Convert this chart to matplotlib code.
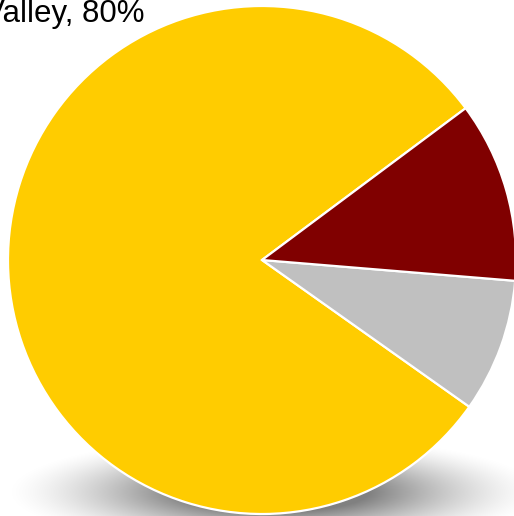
import matplotlib.pyplot as plt
import numpy as np

plt.switch_backend("agg")

# slice shares, drawn counter-clockwise from the upper-right boundary
names = ["Valley", "Other", "Coast"]
shares = [80.0, 8.5, 11.5]
colors = ["#FFCC00", "#C0C0C0", "#800000"]

W, H = 514, 516
cx, cy, r = 262, H - 260, 254

fig = plt.figure(figsize=(W / 100, H / 100), dpi=100)
ax = fig.add_axes([0, 0, 1, 1])

# soft flattened shadow under the pie
xx, yy = np.meshgrid(np.arange(W) + 0.5, np.arange(H) + 0.5)
d = np.sqrt(((xx - 275) / 235) ** 2 + ((yy - (H - 492)) / 50) ** 2)
alpha = 0.5 * np.clip((1.15 - d) / 0.75, 0, 1) ** 1.5
shadow = np.zeros((H, W, 4))
shadow[..., 3] = alpha
ax.imshow(shadow, extent=(0, W, 0, H), origin="lower", zorder=0)

ax.pie(
    shares,
    colors=colors,
    center=(cx, cy),
    radius=r,
    startangle=36.7,
    counterclock=True,
    wedgeprops=dict(edgecolor="white", linewidth=1.6),
    frame=True,
)
ax.set_xlim(0, W)
ax.set_ylim(0, H)
ax.set_aspect("equal")
ax.axis("off")

ax.text(
    144, H - 22, f"{names[0]}, {shares[0]:.0f}%",
    ha="right", va="baseline", fontsize=22.5, family="Liberation Sans",
)

fig.savefig("out.png", dpi=100)
